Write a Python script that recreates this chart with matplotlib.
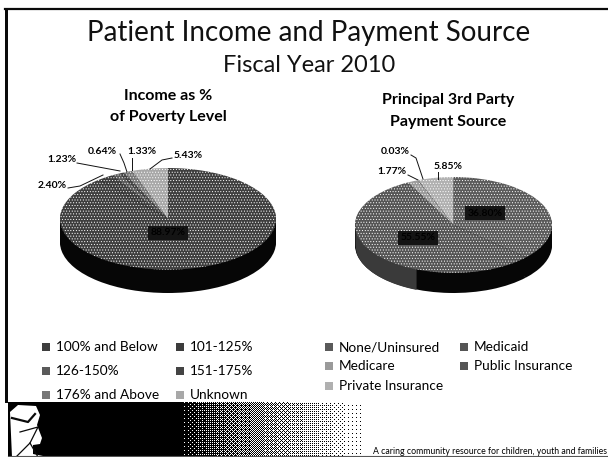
#!/usr/bin/env python3
import numpy as np
import matplotlib
matplotlib.use("Agg")
import matplotlib.pyplot as plt

plt.rcParams["font.family"] = ["Lato", "DejaVu Sans"]
plt.rcParams["hatch.linewidth"] = 0.4
plt.rcParams["hatch.color"] = "#e0e0e0"

W, H = 608, 457

income_labels = ["100% and Below", "101-125%", "126-150%", "151-175%", "176% and Above", "Unknown"]
income_values = [88.97, 2.40, 1.23, 0.64, 1.33, 5.43]
income_text = ["88.97%", "2.40%", "1.23%", "0.64%", "1.33%", "5.43%"]

payer_labels = ["None/Uninsured", "Medicaid", "Medicare", "Public Insurance", "Private Insurance"]
payer_values = [36.80, 55.55, 1.77, 0.03, 5.85]
payer_text = ["36.80%", "55.55%", "1.77%", "0.03%", "5.85%"]

income_colors = ["#3e3e3e", "#3c3c3c", "#5a5a5a", "#444444", "#777777", "#a8a8a8"]
payer_colors = ["#5a5a5a", "#555555", "#9a9a9a", "#555555", "#b0b0b0"]


def px_axes(fig, x0, y0, x1, y1):
    # pixel box measured from the top left of the picture
    return fig.add_axes([x0 / W, 1 - y1 / H, (x1 - x0) / W, (y1 - y0) / H])


def tilted_pie(fig, box, values, colors, depth, lit_wall_to=None):
    ax = px_axes(fig, *box)
    # side wall first, then the top face
    for d in np.linspace(depth, 0.02, 12):
        ax.pie(values, colors=["#060606"] * len(values), startangle=90, counterclock=False,
               center=(0, -d), radius=1, frame=False)
    if lit_wall_to is not None:
        # the left of the wall catches some light
        xs = np.linspace(-1, lit_wall_to, 60)
        ax.fill_between(xs, -np.sqrt(1 - xs ** 2) - depth, 0, color="#3a3a3a", lw=0)
    wedges, _ = ax.pie(values, colors=colors, startangle=90, counterclock=False, radius=1, frame=False)
    for w in wedges:
        w.set_hatch("......")
        w.set_edgecolor("#ffffff")
        w.set_linewidth(0)
    ax.set_aspect("auto")
    ax.set_xlim(-1, 1)
    ax.set_ylim(-1 - depth, 1)
    ax.axis("off")
    return ax


def label(fig, x, y, s, size=7.5, weight="bold", ha="center", color="#111111", **kw):
    return fig.text(x / W, 1 - y / H, s, fontsize=size, fontweight=weight, ha=ha, va="center", color=color, **kw)


def leader(ax_bg, pts):
    ax_bg.plot([p[0] for p in pts], [p[1] for p in pts], color="#111111", lw=0.7)


fig = plt.figure(figsize=(W / 100, H / 100), dpi=100, facecolor="white")

# full picture layer in pixel coordinates
bg = fig.add_axes([0, 0, 1, 1])
bg.axis("off")

# dithered footer band
bayer = np.array([[0, 8, 2, 10], [12, 4, 14, 6], [3, 11, 1, 9], [15, 7, 13, 5]]) / 16
band_top, band_w = 402, 600
band_h = H - band_top
xx = np.arange(band_w) + 8
ramp = np.clip((xx - 180) / 196, 0, 1) ** 0.8
tile = np.tile(bayer, (band_h // 4 + 1, band_w // 4 + 1))[:band_h, :band_w]
band = (ramp[None, :] > tile).astype(float)
bg.imshow(band, cmap="gray", vmin=0, vmax=1, extent=[8, 608, H, band_top], aspect="auto",
          interpolation="nearest", zorder=1)
bg.set_xlim(0, W)
bg.set_ylim(H, 0)

# slide border
bg.fill_between([5, 8], 9, 403, color="#0a0a0a", lw=0, zorder=2)
bg.plot([5, 608], [9, 9], color="#0a0a0a", lw=1.6, zorder=2)

# figure at the left of the band
bg.fill([10, 18, 36, 40, 37, 42, 40, 33, 33, 48, 12, 10],
        [412, 405, 406, 415, 425, 438, 444, 445, 454, 457, 457, 412],
        color="white", lw=0, zorder=2)
bg.plot([20, 38, 30, 24, 16], [432, 427, 443, 449, 457], color="#0a0a0a", lw=0.9, zorder=3)
bg.plot([30, 38], [443, 457], color="#0a0a0a", lw=0.9, zorder=3)
bg.plot([12, 28, 35], [418, 422, 414], color="#0a0a0a", lw=1.6, zorder=3)
bg.plot([8, 608], [456, 456], color="#555555", lw=0.8, zorder=3)

label(fig, 309, 33, "Patient Income and Payment Source", size=20, weight="normal", color="#111111")
label(fig, 309, 66, "Fiscal Year 2010", size=17, weight="normal", color="#111111")
label(fig, 168, 96, "Income as %", size=11.5, color="#000000")
label(fig, 168, 117, "of Poverty Level", size=11.5, color="#000000")
label(fig, 448, 100, "Principal 3rd Party", size=11.5, color="#000000")
label(fig, 448, 122, "Payment Source", size=11.5, color="#000000")

tilted_pie(fig, (60, 168, 276, 293), income_values, income_colors, 0.46)
tilted_pie(fig, (355, 177, 552, 293), payer_values, payer_colors, 0.42, lit_wall_to=-0.38)

# data labels with leader lines
top = fig.add_axes([0, 0, 1, 1])
top.set_xlim(0, W)
top.set_ylim(H, 0)
top.axis("off")
top.patch.set_alpha(0)
blob = dict(facecolor="#141414", edgecolor="none", pad=1.5)

label_spots = [(168, 233), (52, 185), (62, 160), (102, 151), (142, 151), (188, 156)]
for i, ((x, y), s) in enumerate(zip(label_spots, income_text)):
    label(fig, x, y, s, bbox=blob if i == 0 else None, color="#000000")
leader(top, [(68, 188), (80, 186), (103, 175)])
leader(top, [(77, 163), (120, 171)])
leader(top, [(120, 154), (124, 163), (127, 172)])
leader(top, [(132, 158), (132, 170)])
leader(top, [(172, 158), (162, 160), (150, 169)])

payer_spots = [(485, 213), (418, 238), (392, 172), (395, 152), (448, 166)]
for i, ((x, y), s) in enumerate(zip(payer_spots, payer_text)):
    label(fig, x, y, s, bbox=blob if i < 2 else None, color="#000000")
leader(top, [(408, 175), (418, 180)])
leader(top, [(411, 155), (416, 158), (423, 179)])
leader(top, [(438, 172), (438, 179)])

# legends, swatch then text
left_rows = [(46, 347), (180, 347), (46, 371), (180, 371), (46, 395), (180, 395)]
for (x, y), s, c in zip(left_rows, income_labels, income_colors):
    top.scatter([x], [y], marker="s", s=26, color=c, hatch="....", linewidths=0)
    label(fig, x + 10, y, s, size=9.8, weight="normal", ha="left", color="#000000")
right_rows = [(329, 347), (464, 347), (329, 366), (464, 366), (329, 386)]
for (x, y), s, c in zip(right_rows, payer_labels, payer_colors):
    top.scatter([x], [y], marker="s", s=26, color=c, hatch="....", linewidths=0)
    label(fig, x + 10, y, s, size=9.8, weight="normal", ha="left", color="#000000")

label(fig, 607, 451, "A caring community resource for children, youth and families", size=6.3, weight="normal",
      ha="right", color="#000000")

fig.savefig("out.png", dpi=100)
